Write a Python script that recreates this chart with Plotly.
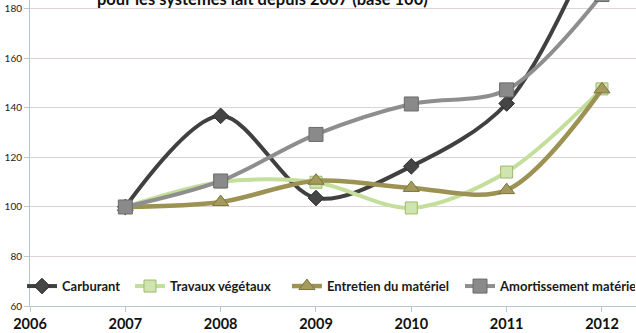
import plotly.graph_objects as go

years = [2007, 2008, 2009, 2010, 2011, 2012]
carburant = [100, 136.8, 103.6, 116.4, 141.8, 214]
travaux_vegetaux = [100, 110.1, 110.0, 99.6, 114.1, 147.7]
entretien_materiel = [100, 102.0, 110.6, 107.7, 106.8, 147.5]
amortissement_materiel = [100, 110.5, 129.3, 141.6, 147.3, 185.8]

x_ticks = [2006, 2007, 2008, 2009, 2010, 2011, 2012]
y_ticks = [60, 80, 100, 120, 140, 160, 180]

series = [
    dict(name="Carburant", y=carburant, color="#404040", width=4,
         marker=dict(symbol="diamond", size=12, color="#454545",
                     line=dict(color="#2E2E2E", width=1))),
    dict(name="Travaux végétaux", y=travaux_vegetaux, color="#C4DE9C", width=4,
         marker=dict(symbol="square", size=12, color="#CFE4AE",
                     line=dict(color="#9DBB6C", width=1))),
    dict(name="Entretien du matériel", y=entretien_materiel, color="#9C9254", width=4.5,
         marker=dict(symbol="triangle-up", size=14, color="#A39A5C",
                     line=dict(color="#7C7440", width=1))),
    dict(name="Amortissement matériel", y=amortissement_materiel, color="#8E8E8E", width=4,
         marker=dict(symbol="square", size=14, color="#8A8A8A",
                     line=dict(color="#6A6A6A", width=1))),
]

# one single-entry legend per series so each entry sits at its own place
legend_x = [-0.0132, 0.165, 0.424, 0.7096]
legend_names = ["legend", "legend2", "legend3", "legend4"]
legend_entrywidth = [None, None, None, 130]

fig = go.Figure()
for s, lg in zip(series, legend_names):
    fig.add_trace(go.Scatter(
        x=years, y=s["y"], name=s["name"], mode="lines+markers",
        line=dict(color=s["color"], width=s["width"], shape="spline", smoothing=0.9),
        marker=s["marker"], legend=lg, cliponaxis=True,
    ))

legend_font = dict(family="Lato", size=13, color="#1A1A1A", weight=700)
layout_legends = {}
for lg, lx, ew in zip(legend_names, legend_x, legend_entrywidth):
    cfg = dict(
        x=lx, y=0.065, xanchor="left", yanchor="middle",
        orientation="h", bgcolor="rgba(0,0,0,0)", borderwidth=0,
        font=legend_font, itemwidth=30,
    )
    if ew is not None:
        cfg["entrywidth"] = ew
        cfg["entrywidthmode"] = "pixels"
    layout_legends[lg] = cfg

fig.update_layout(
    width=636, height=333,
    margin=dict(l=30, r=0, t=0, b=27, autoexpand=False),
    paper_bgcolor="white", plot_bgcolor="white",
    showlegend=True,
    xaxis=dict(
        range=[2006, 2012.357], tickvals=x_ticks, ticktext=[str(v) for v in x_ticks],
        showgrid=False, zeroline=False,
        showline=True, linecolor="#B8C6CE", linewidth=1,
        ticks="outside", ticklen=5, tickcolor="#B8C6CE",
        tickfont=dict(family="Lato", size=14.5, color="#111111", weight=700),
        ticklabelstandoff=0,
    ),
    yaxis=dict(
        range=[60, 183.6], tickvals=y_ticks,
        showgrid=True, gridcolor="#DED4D4", gridwidth=1, zeroline=False,
        showline=True, linecolor="#B8C6CE", linewidth=1,
        ticks="outside", ticklen=5, tickcolor="#B8C6CE",
        tickfont=dict(family="Lato", size=10, color="#222222"),
    ),
    annotations=[dict(
        text="<b>pour les systèmes lait depuis 2007 (base 100)</b>",
        xref="paper", yref="paper", x=0.107, y=1, xanchor="left", yanchor="middle",
        yshift=1, showarrow=False,
        font=dict(family="Lato", size=16.5, color="#111111"),
    )],
    **layout_legends,
)

fig.write_html("out.html")
